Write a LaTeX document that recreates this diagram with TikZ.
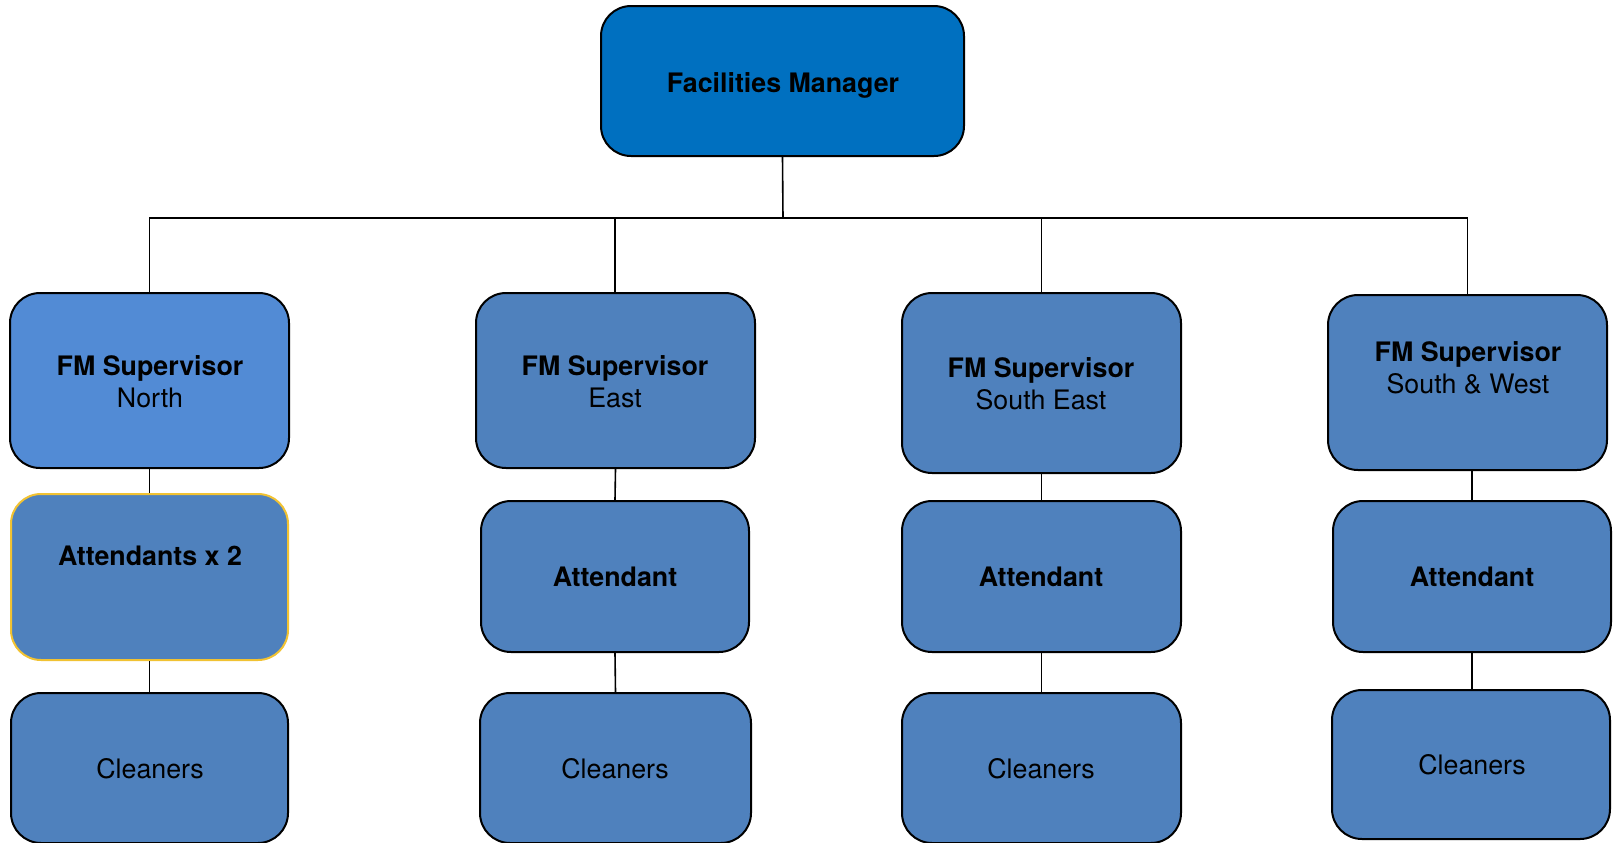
\documentclass[tikz,border=0pt]{standalone}
\usepackage{fontspec}
\setmainfont{TeX Gyre Heros}
\definecolor{fmblue}{HTML}{0070C0}
\definecolor{northblue}{HTML}{528BD5}
\definecolor{boxblue}{HTML}{4F81BD}
\definecolor{gold}{HTML}{F1C232}
\tikzset{
  box/.style={draw=black, line width=1pt, rounded corners=15pt, fill=boxblue, inner sep=0pt},
  txt/.style={align=center, font=\fontsize{13.4}{16}\selectfont, text=black, inner sep=0pt},
  conn/.style={draw=black, line width=0.8pt},
}
\newcommand{\mkbox}[7]{% name, x1, y1, x2, y2, style, text
  \node[box,#6, minimum width={(#4-#2)*0.5pt}, minimum height={(#5-#3)*0.5pt}] (#1) at ({(#2+#4)/2},{(#3+#5)/2}) {};
}
\begin{document}
\begin{tikzpicture}[x=0.5pt,y=-0.5pt]
\useasboundingbox (0,0) rectangle (1614,842);
% boxes
\mkbox{fm}{601}{6}{964}{156}{fill=fmblue}{}
\mkbox{nsup}{10}{293}{289}{468}{fill=northblue}{}
\mkbox{natt}{11}{494}{288}{660}{draw=gold}{}
\mkbox{ncl}{11}{693}{288}{843}{}{}
\mkbox{esup}{476}{293}{755}{468}{}{}
\mkbox{eatt}{481}{501}{749}{652}{}{}
\mkbox{ecl}{480}{693}{751}{843}{}{}
\mkbox{sesup}{902}{293}{1181}{473}{}{}
\mkbox{seatt}{902}{501}{1181}{652}{}{}
\mkbox{secl}{902}{693}{1181}{843}{}{}
\mkbox{swsup}{1328}{295}{1607}{470}{}{}
\mkbox{swatt}{1333}{501}{1611}{652}{}{}
\mkbox{swcl}{1332}{690}{1610}{839}{}{}
% texts
\node[txt] (tfm) at (783,85) {\bfseries Facilities Manager};
\node[txt] (tnsup) at (150,382) {\bfseries FM Supervisor\\North};
\node[txt] (tnatt) at (150,556) {\bfseries Attendants x 2};
\node[txt] (tncl) at (150,769) {Cleaners};
\node[txt] (tesup) at (615,382) {\bfseries FM Supervisor\\East};
\node[txt] (teatt) at (615,577) {\bfseries Attendant};
\node[txt] (tecl) at (615,769) {Cleaners};
\node[txt] (tsesup) at (1041,384) {\bfseries FM Supervisor\\South East};
\node[txt] (tseatt) at (1041,577) {\bfseries Attendant};
\node[txt] (tsecl) at (1041,769) {Cleaners};
\node[txt] (tswsup) at (1468,368) {\bfseries FM Supervisor\\South \& West};
\node[txt] (tswatt) at (1472,577) {\bfseries Attendant};
\node[txt] (tswcl) at (1472,765) {Cleaners};
% connectors
\coordinate (bus) at (783,218);
\draw[conn] (fm.south) -- (bus);
\draw[conn] (bus) -| (nsup.north);
\draw[conn] (bus) -| ([xshift=-0.25pt]esup.north);
\draw[conn] (bus) -| (sesup.north);
\draw[conn] (bus) -| (swsup.north);
\draw[conn] (nsup.south) -- (natt.north);
\draw[conn] (natt.south) -- (ncl.north);
\draw[conn] (esup.south) -- (eatt.north);
\draw[conn] (eatt.south) -- (ecl.north);
\draw[conn] (sesup.south) -- (seatt.north);
\draw[conn] (seatt.south) -- (secl.north);
\draw[conn] (swatt.north) -- (swatt.north |- swsup.south);
\draw[conn] (swatt.south) -- (swatt.south |- swcl.north);
\end{tikzpicture}
\end{document}
